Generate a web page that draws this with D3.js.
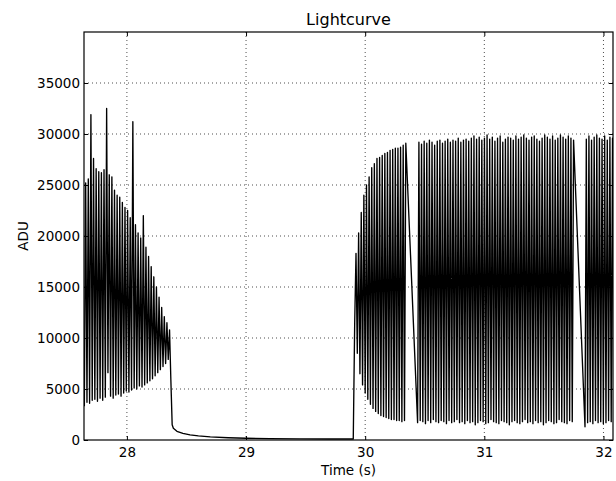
<!DOCTYPE html>
<html>
<head>
<meta charset="utf-8">
<script src="https://cdn.jsdelivr.net/npm/d3@7"></script>
<style>
body { margin: 0; background: #fff; }
text { font-family: 'DejaVu Sans', sans-serif; fill: #000; }
</style>
</head>
<body>
<script>
// frame cadence of the camera (s), every segment alternates trough / peak frames
const cadence = 0.011

// before the eclipse
const segAStart = 27.643
const segATroughs = [3300, 3700, 3600, 3900, 4000, 3800, 4100, 3900, 4200, 6600,
    4300, 4100, 4400, 4500, 4300, 4600, 4800, 4700, 4900, 5100,
    5000, 5300, 5200, 5400, 5600, 5800, 6000, 6300, 6600, 6900,
    7200, 7500, 7900]
const segAPeaks = [25200, 25600, 31900, 27600, 26600, 26300, 26200, 26500, 32500, 26000,
    25800, 24500, 24000, 23800, 23300, 22800, 22500, 21800, 31200, 21100,
    20300, 19800, 22000, 18900, 18000, 17000, 16000, 15000, 14000, 13000,
    12100, 11500, 10800]

// the drop and the low part
const decayTimes = [28.369, 28.373, 28.380, 28.39, 28.42, 28.47, 28.53, 28.60, 28.70, 28.85, 29.00, 29.20, 29.45, 29.70, 29.90]
const decayValues = [5900, 4300, 1500, 1150, 850, 650, 500, 400, 300, 220, 170, 130, 110, 100, 100]

// after the eclipse
const segBStart = 29.912
const segBTroughs = [11500, 8500, 6500, 5400, 4600, 4000, 3500, 3100, 2800, 2600,
    2400, 2300, 2200, 2100, 2000, 2000, 1900, 1900, 1800, 1900]
const segBPeaks = [18300, 20300, 22300, 24000, 25000, 25800, 26700, 27100, 27600, 27700,
    27900, 28100, 28200, 28400, 28500, 28600, 28600, 28700, 28900, 29100]

const segCStart = 30.44
const segCTroughs = [1700, 1900, 1800, 1600, 1900, 1700, 2000, 1800, 1700, 1900,
    1800, 1600, 1900, 1700, 1800, 2000, 1700, 1800, 1600, 1900,
    1700, 1800, 1500, 1700, 1900, 1800, 1600, 1700, 2000, 1800,
    1700, 1600, 1900, 1800, 1700, 1500, 1800, 1900, 1700, 1600,
    1800, 2000, 1700, 1800, 1600, 1900, 1700, 1800, 1500, 1700,
    1900, 1800, 1600, 1700, 2000, 1800, 1700, 1600, 1900, 1800]
const segCPeaks = [29200, 29000, 29300, 29100, 29400, 29200, 28900, 29300, 29400, 29100,
    29300, 29500, 29200, 29400, 29300, 29600, 29200, 29400, 29500, 29300,
    29600, 29800, 29500, 29700, 29400, 29600, 29900, 29500, 29700, 29300,
    29600, 29800, 29200, 29500, 29700, 29600, 29400, 29800, 29500, 29700,
    29900, 29600, 29400, 29700, 29800, 29500, 29300, 29600, 29900, 29700,
    29500, 29800, 29400, 29600, 29900, 29700, 29500, 29800, 29600, 29400]

const segDStart = 31.845
const segDTroughs = [1300, 1700, 1800, 1600, 1900, 1700, 1800, 1600, 1700, 1900, 1800, 1700]
const segDPeaks = [29500, 29800, 29400, 29700, 29900, 29600, 29500, 29800, 29400, 29700, 29600, 29800]

const xTicks = [28, 29, 30, 31, 32]
const yTicks = [0, 5000, 10000, 15000, 20000, 25000, 30000, 35000]

const w = 616
const h = 481
const plotLeft = 84
const plotRight = 613
const plotTop = 32
const plotBottom = 440

function frames(start, troughs, peaks) {
    const out = []
    troughs.forEach((v, i) => {
        out.push({ t: start + 2 * i * cadence, v: v })
        out.push({ t: start + (2 * i + 1) * cadence, v: peaks[i] })
    })
    return out
}

const data = [].concat(
    frames(segAStart, segATroughs, segAPeaks),
    decayTimes.map((t, i) => ({ t: t, v: decayValues[i] })),
    frames(segBStart, segBTroughs, segBPeaks),
    frames(segCStart, segCTroughs, segCPeaks),
    frames(segDStart, segDTroughs, segDPeaks)
)

const svg = d3.select('body')
    .append('svg')
    .attr('width', w)
    .attr('height', h)

const x = d3.scaleLinear()
    .domain([27.64, 32.08])
    .range([plotLeft, plotRight])

const y = d3.scaleLinear()
    .domain([0, 40000])
    .range([plotBottom, plotTop])

svg.append('clipPath')
    .attr('id', 'plot')
    .append('rect')
    .attr('x', plotLeft)
    .attr('y', plotTop)
    .attr('width', plotRight - plotLeft)
    .attr('height', plotBottom - plotTop)

// grid
svg.append('g')
    .selectAll('line')
    .data(xTicks)
    .enter()
    .append('line')
    .attr('x1', d => x(d))
    .attr('x2', d => x(d))
    .attr('y1', plotTop)
    .attr('y2', plotBottom)
    .attr('stroke', '#000')
    .attr('stroke-width', 0.7)
    .attr('stroke-dasharray', '1,3')

svg.append('g')
    .selectAll('line')
    .data(yTicks.slice(1))
    .enter()
    .append('line')
    .attr('x1', plotLeft)
    .attr('x2', plotRight)
    .attr('y1', d => y(d))
    .attr('y2', d => y(d))
    .attr('stroke', '#000')
    .attr('stroke-width', 0.7)
    .attr('stroke-dasharray', '1,3')

// the lightcurve
svg.append('path')
    .datum(data)
    .attr('clip-path', 'url(#plot)')
    .attr('fill', 'none')
    .attr('stroke', '#000')
    .attr('stroke-width', 1.35)
    .attr('stroke-linejoin', 'round')
    .attr('d', d3.line().x(d => x(d.t)).y(d => y(d.v)))

// axes, ticks pointing inward
svg.append('g')
    .attr('transform', `translate(0,${plotBottom})`)
    .call(d3.axisBottom(x).tickValues(xTicks).tickSize(-4).tickPadding(7).tickFormat(d3.format('d')))
svg.append('g')
    .attr('transform', `translate(0,${plotTop})`)
    .call(d3.axisTop(x).tickValues(xTicks).tickSize(-4).tickFormat(''))
svg.append('g')
    .attr('transform', `translate(${plotLeft},0)`)
    .call(d3.axisLeft(y).tickValues(yTicks).tickSize(-4).tickPadding(4).tickFormat(d3.format('d')))
svg.append('g')
    .attr('transform', `translate(${plotRight},0)`)
    .call(d3.axisRight(y).tickValues(yTicks).tickSize(-4).tickFormat(''))

svg.selectAll('.domain').remove()
svg.selectAll('.tick line').attr('stroke', '#000')
svg.selectAll('.tick text')
    .style('font-family', "'DejaVu Sans', sans-serif")
    .style('font-size', '13.5px')

svg.append('rect')
    .attr('x', plotLeft)
    .attr('y', plotTop)
    .attr('width', plotRight - plotLeft)
    .attr('height', plotBottom - plotTop)
    .attr('fill', 'none')
    .attr('stroke', '#000')
    .attr('stroke-width', 1.2)

svg.append('text')
    .attr('x', (plotLeft + plotRight) / 2)
    .attr('y', 25)
    .attr('text-anchor', 'middle')
    .style('font-size', '16px')
    .text('Lightcurve')

svg.append('text')
    .attr('x', (plotLeft + plotRight) / 2)
    .attr('y', 475)
    .attr('text-anchor', 'middle')
    .style('font-size', '13.5px')
    .text('Time (s)')

svg.append('text')
    .attr('transform', `translate(28,${(plotTop + plotBottom) / 2}) rotate(-90)`)
    .attr('text-anchor', 'middle')
    .style('font-size', '13.5px')
    .text('ADU')
</script>
</body>
</html>
